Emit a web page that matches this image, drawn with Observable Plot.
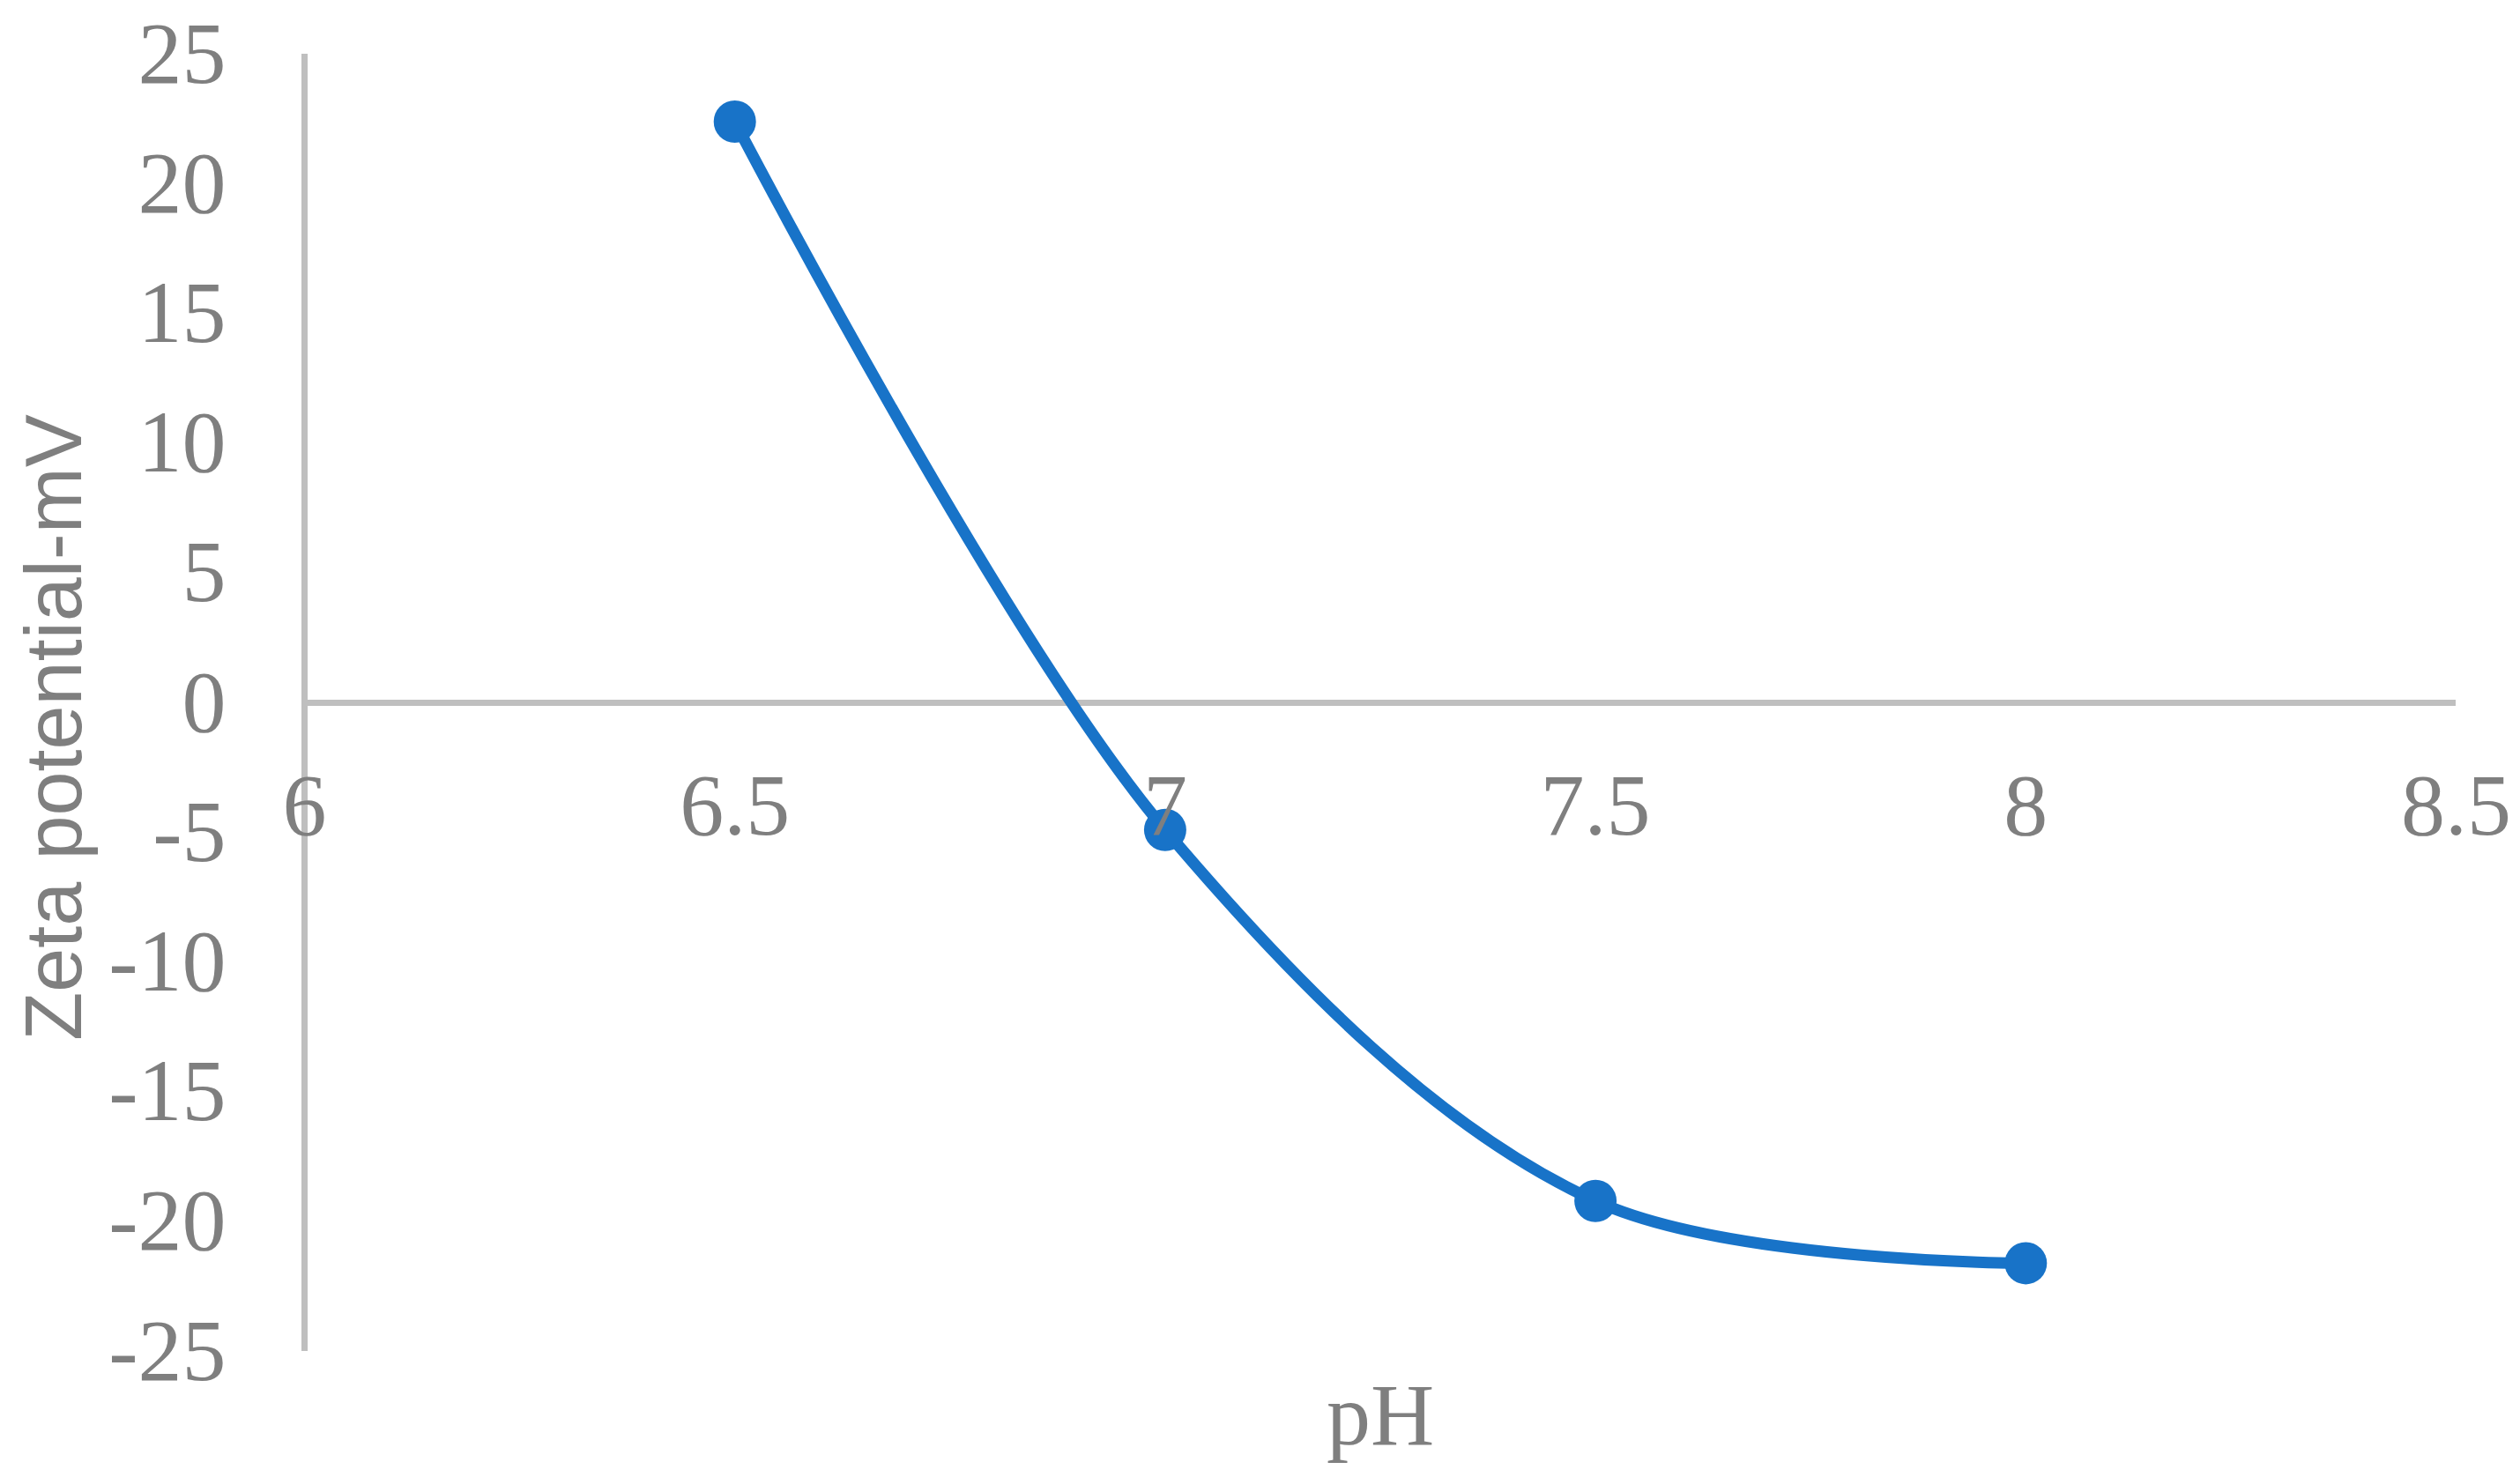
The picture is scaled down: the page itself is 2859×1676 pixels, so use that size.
<!DOCTYPE html>
<html>
<head>
<meta charset="utf-8">
<script src="https://cdn.jsdelivr.net/npm/d3@7"></script>
<script src="https://cdn.jsdelivr.net/npm/@observablehq/plot@0.6"></script>
<style>
  html, body { margin: 0; padding: 0; background: #ffffff; }
  #chart svg { display: block; }
</style>
</head>
<body>
<div id="chart"></div>
<script>
// Data
const pH = [6.5, 7, 7.5, 8];
const zeta = [22.4, -4.9, -19.2, -21.6];
const xTicks = [6, 6.5, 7, 7.5, 8, 8.5];
const yTicks = [-25, -20, -15, -10, -5, 0, 5, 10, 15, 20, 25];
const xTitle = "pH";
const yTitle = "Zeta potential-mV";

const points = pH.map((x, i) => ({x, y: zeta[i]}));

const blue = "#1873c8";
const axisGray = "#bfbfbf";
const textGray = "#7f7f7f";
const serif = "'Liberation Serif', 'Times New Roman', serif";
const sans = "'Liberation Sans', Arial, sans-serif";

const chart = Plot.plot({
  width: 2859,
  height: 1676,
  marginLeft: 345,
  marginRight: 73,
  marginTop: 61,
  marginBottom: 143,
  style: {background: "#ffffff", color: textGray},
  x: {domain: [6, 8.5], axis: null},
  y: {domain: [-25, 25], axis: null},
  marks: [
    Plot.ruleX([6], {stroke: axisGray, strokeWidth: 7}),
    Plot.ruleY([0], {stroke: axisGray, strokeWidth: 7}),
    Plot.axisY(yTicks, {
      anchor: "left",
      tickSize: 0,
      tickPadding: 89,
      tickFormat: d => String(d),
      fontSize: 100,
      fontFamily: serif,
      fill: textGray,
      label: null
    }),
    Plot.line(points, {x: "x", y: "y", curve: "catmull-rom", stroke: blue, strokeWidth: 13}),
    Plot.dot(points, {x: "x", y: "y", r: 24, fill: blue, stroke: null}),
    Plot.text(xTicks, {
      x: d => d,
      y: () => 0,
      text: d => String(d),
      lineAnchor: "bottom",
      dy: 149,
      fontSize: 100,
      fontFamily: serif,
      fill: textGray
    }),
    Plot.text([xTitle], {
      frameAnchor: "bottom",
      lineAnchor: "bottom",
      dy: 105,
      fontSize: 100,
      fontFamily: serif,
      fill: textGray
    }),
    Plot.text([yTitle], {
      frameAnchor: "left",
      textAnchor: "middle",
      lineAnchor: "middle",
      rotate: -90,
      dx: -282,
      dy: 28,
      fontSize: 90,
      fontFamily: sans,
      fill: textGray
    })
  ]
});

document.getElementById("chart").appendChild(chart);
</script>
</body>
</html>
